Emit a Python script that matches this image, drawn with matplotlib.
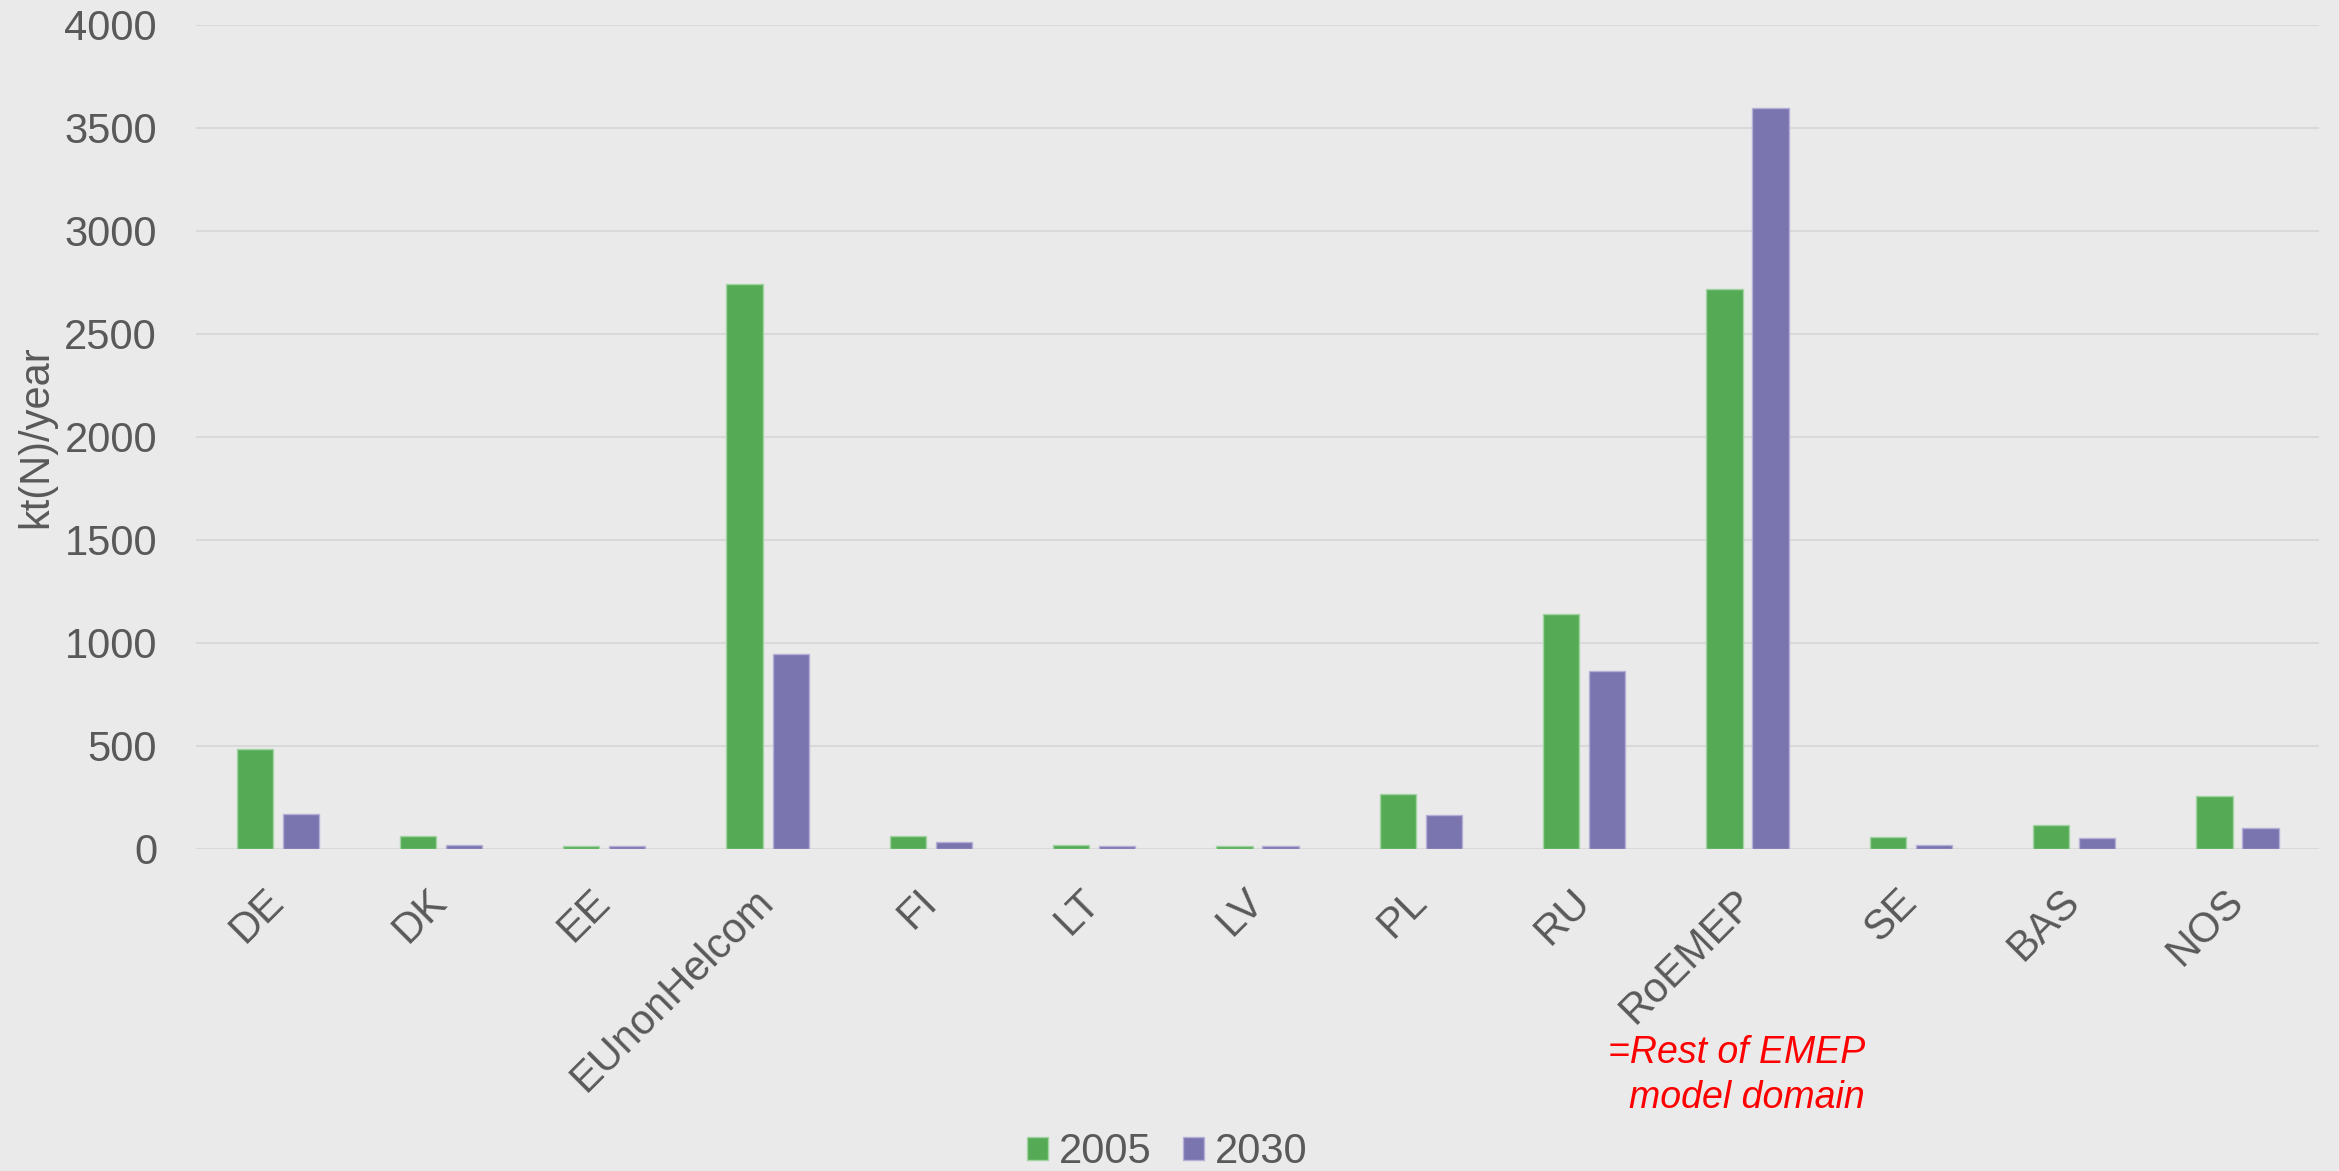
import numpy as np
import matplotlib
matplotlib.use("Agg")
import matplotlib.pyplot as plt

# emissions per source area
categories = ['DE', 'DK', 'EE', 'EUnonHelcom', 'FI', 'LT', 'LV', 'PL', 'RU',
              'RoEMEP', 'SE', 'BAS', 'NOS']
v2005 = [484, 63, 13, 2743, 63, 18, 13, 264, 1137, 2716, 55, 114, 254]
v2030 = [169, 18, 10, 945, 34, 10, 10, 161, 861, 3596, 18, 49, 98]
series_labels = ['2005', '2030']
yticks = [0, 500, 1000, 1500, 2000, 2500, 3000, 3500, 4000]

bg = '#EAEAEA'
txt = '#595959'
green = '#55AA55'
purple = '#7A74AF'

plt.rcParams['font.family'] = ['Liberation Sans', 'DejaVu Sans']

fig = plt.figure(figsize=(23.39, 11.71), dpi=100, facecolor=bg)
ax = fig.add_axes([0.0838, 0.2754, 0.9077, 0.7033], facecolor=bg)

x = np.arange(len(categories))
w = 0.222
off = 0.141
b1 = ax.bar(x - off, v2005, w, color=green, edgecolor='#A3D3A3', linewidth=1.0,
            label=series_labels[0], zorder=3)
b2 = ax.bar(x + off, v2030, w, color=purple, edgecolor='#B3AFD6', linewidth=1.0,
            label=series_labels[1], zorder=3)

ax.set_xlim(-0.5, len(categories) - 0.5)
ax.set_ylim(0, 4000)
ax.set_yticks(yticks)
ax.yaxis.grid(True, color='#D9D9D9', linewidth=1.5, zorder=0)
ax.set_axisbelow(True)
for s in ax.spines.values():
    s.set_visible(False)

ax.tick_params(axis='y', length=0, pad=28, labelsize=30, labelcolor=txt)
ax.tick_params(axis='x', length=0, pad=34, labelsize=30, labelcolor=txt)
ax.set_xticks(x)
ax.set_xticklabels(categories, rotation=45, ha='right', va='center',
                   rotation_mode='anchor')

ax.set_ylabel('kt(N)/year', fontsize=30, color=txt)
ax.yaxis.set_label_coords(-0.066, 0.5)

# note under RoEMEP
fig.text(0.7973, 0.1008, '=Rest of EMEP', color='red', fontsize=27,
         style='italic', ha='right', va='center')
fig.text(0.7973, 0.0623, 'model domain', color='red', fontsize=27,
         style='italic', ha='right', va='center')

leg = fig.legend(handles=[b1, b2], loc='center', bbox_to_anchor=(0.499, 0.016),
                 ncol=2, frameon=False, fontsize=30, handlelength=0.5,
                 handleheight=0.5, handletextpad=0.26, columnspacing=0.75,
                 borderpad=0)
for t in leg.get_texts():
    t.set_color(txt)

fig.savefig('out.png', dpi=100, facecolor=bg)
